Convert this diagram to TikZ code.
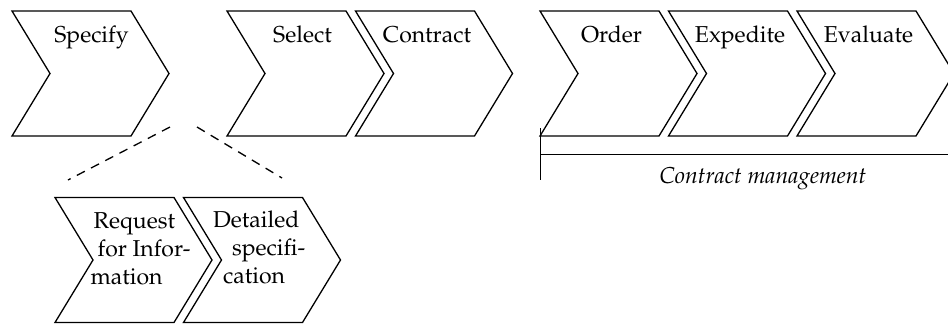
\documentclass[tikz,border=0pt]{standalone}
\usepackage[T1]{fontenc}
\usepackage{mathpazo}
\usepackage{xcolor}
\usetikzlibrary{positioning}

\begin{document}
\begin{tikzpicture}[x=1pt,y=-1pt,line width=1.3pt,
  chevron/.style={minimum width=119pt,minimum height=125pt,inner sep=0pt,outer sep=0pt,
    append after command={\pgfextra{%
      \draw (\tikzlastnode.north west) -- (\tikzlastnode.north east)
        -- ([xshift=38pt]\tikzlastnode.east) -- (\tikzlastnode.south east)
        -- (\tikzlastnode.south west) -- ([xshift=38pt]\tikzlastnode.west) -- cycle;}}},
  stepname/.style={font=\fontsize{23}{28}\selectfont,inner sep=0pt,anchor=base},
  substep/.style={font=\fontsize{23}{28}\selectfont,inner sep=0pt,anchor=north west,align=left}]
\useasboundingbox (0,0) rectangle (948,325);

% procurement chain
\node[chevron] (specify) at (71.5,73.5) {};
\node[chevron] (select) at (286.5,73.5) {};
\node[chevron,right=9.5pt of select] (contract) {};
\node[chevron] (order) at (599.5,73.5) {};
\node[chevron,right=9.5pt of order] (expedite) {};
\node[chevron,right=9.5pt of expedite] (evaluate) {};

\foreach \n/\t/\dx in {specify/Specify/20,select/Select/16,contract/Contract/12,
    order/Order/12,expedite/Expedite/12,evaluate/Evaluate/12}
  \node[stepname] (\n-t) at ([xshift=\dx pt,yshift=-31pt]\n.north) {\t};

% detail of the specify step
\node[chevron] (request) at (114.5,260) {};
\node[chevron,right=9.5pt of request] (detailed) {};
\node[substep] (request-t) at ([xshift=35pt,yshift=-14pt]request.north west)
  {\hspace*{3pt}Request\\\hspace*{7pt}for Infor-\\mation};
\node[substep] (detailed-t) at ([xshift=29pt,yshift=-13pt]detailed.north west)
  {Detailed\\\hspace*{19pt}specifi-\\\hspace*{10pt}cation};

\coordinate (zoomL) at (170,127);
\coordinate (zoomR) at (197,127);
\coordinate (zoomLend) at (68,180);
\coordinate (zoomRend) at (282,178);
\draw[dash pattern=on 9pt off 7pt] (zoomL) -- (zoomLend);
\draw[dash pattern=on 9pt off 7pt] (zoomR) -- (zoomRend);

% contract management span
\coordinate (cmtop) at (540.5,128);
\coordinate (cmbot) at (540.5,180);
\coordinate (cmend) at (948,154);
\draw (cmtop) -- (cmbot);
\draw[line width=0.8pt] (cmtop |- cmend) -- (cmend);
\node[stepname,font=\fontsize{23}{28}\selectfont\itshape] (cm) at (763,183) {Contract management};
\end{tikzpicture}
\end{document}
